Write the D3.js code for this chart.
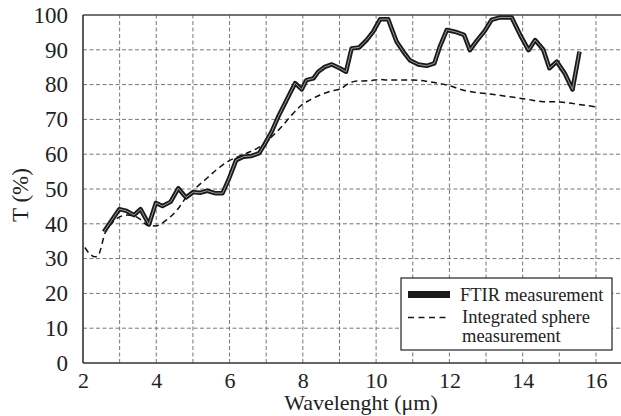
<!DOCTYPE html>
<html><head><meta charset="utf-8">
<script src="https://cdn.jsdelivr.net/npm/d3@7"></script>
</head><body style="margin:0;background:#fff;overflow:hidden">
<script>
const ftirX = [2.57,2.99,3.19,3.39,3.57,3.80,3.99,4.17,4.39,4.60,4.81,5.01,5.19,5.39,5.60,5.81,5.97,6.18,6.38,6.60,6.81,6.97,7.15,7.33,7.51,7.65,7.79,7.97,8.10,8.29,8.42,8.60,8.79,9.01,9.18,9.33,9.54,9.74,9.92,10.11,10.33,10.42,10.56,10.74,10.92,11.15,11.38,11.59,11.74,11.93,12.15,12.40,12.56,12.74,12.97,13.15,13.38,13.70,13.93,14.16,14.34,14.56,14.73,14.93,15.15,15.36,15.55];
const ftirT = [37.7,44.2,43.7,42.5,44.2,39.8,46.0,45.1,46.3,50.2,47.6,49.1,48.9,49.5,48.8,48.8,52.6,58.3,59.3,59.5,60.3,63.1,66.5,70.8,74.6,77.5,80.4,78.6,81.3,81.8,83.7,85.1,85.8,84.7,83.7,90.4,90.7,92.8,95.2,98.8,98.8,96.2,92.3,89.5,87.0,85.8,85.4,86.1,90.9,95.7,95.2,94.3,89.9,92.5,95.5,98.6,99.3,99.3,94.3,89.9,92.8,90.1,84.7,86.6,83.2,78.6,89.5];
const sphereX = [2.05,2.2,2.33,2.42,2.6,2.8,3.0,3.2,3.4,3.56,3.78,3.97,4.28,4.6,4.83,5.1,5.38,5.65,5.97,6.28,6.56,6.83,7.15,7.42,7.7,7.92,8.2,8.47,8.79,9.01,9.29,9.47,9.83,10.11,10.29,11.01,11.47,11.93,12.38,12.74,13.02,13.65,14.11,14.56,15.02,15.47,16.0];
const sphereT = [33.2,31.2,30.5,31.0,37.3,40.3,42.0,42.5,42.2,41.3,39.5,39.4,41.1,44.4,47.8,50.5,53.1,55.6,58.0,59.5,60.7,62.2,65.0,67.9,71.3,73.7,75.6,77.0,78.2,78.7,80.5,81.0,81.1,81.5,81.3,81.3,80.8,79.9,78.4,77.7,77.4,76.5,75.8,75.1,75.0,74.4,73.6];
const xTickLabels = [2,4,6,8,10,12,14,16];
const yTickLabels = [0,10,20,30,40,50,60,70,80,90,100];
const legendLabels = ["FTIR measurement", ["Integrated sphere","measurement"]];

const FONT = '"Liberation Serif", "Times New Roman", Tinos, serif';
const W = 621, H = 416;
const svg = d3.select("body").append("svg").attr("width", W).attr("height", H)
  .style("font-family", FONT, "important");
const x = d3.scaleLinear().domain([2, 17]).range([83, 83 + 36.64*15]);
const y = d3.scaleLinear().domain([0, 100]).range([363, 15]);

function setFont(sel, size) {
  return sel.attr("font-family", FONT).style("font-family", FONT, "important")
    .attr("font-size", size).style("font-size", size + "px", "important").style("fill", "#222");
}

// grid
const gx = d3.range(3, 17);
svg.append("g").selectAll("line").data(gx).join("line")
  .attr("x1", d => x(d)).attr("x2", d => x(d)).attr("y1", y(0)).attr("y2", y(100))
  .attr("stroke", "#777").attr("stroke-width", 1).attr("stroke-dasharray", "4,2.5");
svg.append("g").selectAll("line").data(yTickLabels.filter(d => d > 0 && d < 100)).join("line")
  .attr("x1", x(2)).attr("x2", W).attr("y1", d => y(d)).attr("y2", d => y(d))
  .attr("stroke", "#777").attr("stroke-width", 1).attr("stroke-dasharray", "4,2.5");

// axes
const xAxis = d3.axisBottom(x).tickValues(xTickLabels).tickSize(0).tickPadding(9).tickFormat(d3.format("d"));
const gxa = svg.append("g").attr("transform", `translate(0,${y(0)})`).call(xAxis);
gxa.select(".domain").remove();
setFont(gxa.selectAll("text"), 22);
const yAxis = d3.axisLeft(y).tickValues(yTickLabels).tickSize(0).tickPadding(15);
const gya = svg.append("g").attr("transform", `translate(${x(2)},0)`).call(yAxis);
gya.select(".domain").remove();
setFont(gya.selectAll("text"), 23);

svg.append("line").attr("x1", x(2)).attr("x2", W).attr("y1", y(0)).attr("y2", y(0)).attr("stroke", "#333").attr("stroke-width", 1.6);
svg.append("line").attr("x1", x(2)).attr("x2", W).attr("y1", y(100)).attr("y2", y(100)).attr("stroke", "#444").attr("stroke-width", 1.4);
svg.append("line").attr("x1", x(2)).attr("x2", x(2)).attr("y1", y(0)).attr("y2", y(100)).attr("stroke", "#333").attr("stroke-width", 1.6);

// series
const sphere = sphereX.map((v, i) => [v, sphereT[i]]);
const lineS = d3.line().x(d => x(d[0])).y(d => y(d[1])).curve(d3.curveMonotoneX);
svg.append("path").attr("d", lineS(sphere))
  .attr("fill", "none").attr("stroke", "#111").attr("stroke-width", 1.5).attr("stroke-dasharray", "6,4");
const ftir = ftirX.map((v, i) => [v, ftirT[i]]);
const lineL = d3.line().x(d => x(d[0])).y(d => y(d[1]));
svg.append("path").attr("d", lineL(ftir)).attr("fill", "none").attr("stroke", "#1a1a1a")
  .attr("stroke-width", 4.5).attr("stroke-linejoin", "round");
svg.append("path").attr("d", lineL(ftir)).attr("fill", "none").attr("stroke", "#9a9a9a")
  .attr("stroke-width", 1).attr("stroke-linejoin", "round");

// labels
setFont(svg.append("text").attr("x", 361).attr("y", 410).attr("text-anchor", "middle"), 22).text("Wavelenght (μm)");
setFont(svg.append("text").attr("transform", "translate(28,195) rotate(-90)").attr("text-anchor", "middle"), 23).text("T (%)");

// legend
const lg = svg.append("g");
lg.append("rect").attr("x", 401).attr("y", 278).attr("width", 211).attr("height", 72)
  .attr("fill", "#fff").attr("stroke", "#222").attr("stroke-width", 1.2);
lg.append("line").attr("x1", 408).attr("x2", 450).attr("y1", 294.5).attr("y2", 294.5).attr("stroke", "#1a1a1a").attr("stroke-width", 7);
lg.append("line").attr("x1", 408).attr("x2", 450).attr("y1", 317.5).attr("y2", 317.5).attr("stroke", "#1a1a1a").attr("stroke-width", 1.5).attr("stroke-dasharray", "6,4.5");
const lt = [[460, 301, legendLabels[0]], [462, 323, legendLabels[1][0]], [462, 342, legendLabels[1][1]]];
setFont(lg.selectAll("text.l").data(lt).join("text").attr("class", "l")
  .attr("x", d => d[0]).attr("y", d => d[1]), 18.5).text(d => d[2]);
</script>
</body></html>
